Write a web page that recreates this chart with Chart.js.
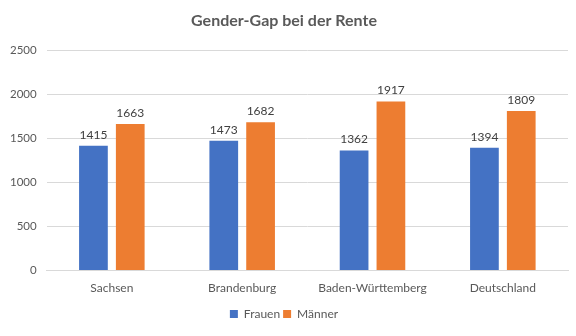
<!DOCTYPE html>
<html><head><meta charset="utf-8">
<script src="https://cdn.jsdelivr.net/npm/chart.js@4/dist/chart.umd.min.js"></script>
<style>html,body{margin:0;padding:0;background:#fff}#wrap{width:576px;height:336px}</style>
</head><body><div id="wrap"><canvas id="c" width="576" height="336"></canvas></div>
<script>
const categories = ["Sachsen", "Brandenburg", "Baden-Württemberg", "Deutschland"];
const frauen = [1415, 1473, 1362, 1394];
const maenner = [1663, 1682, 1917, 1809];
const seriesNames = ["Frauen", "Männer"];

const FONT = "Lato, 'Open Sans', sans-serif";
const labelPlugin = {
  id: 'vlabels',
  afterDatasetsDraw(chart) {
    const ctx = chart.ctx;
    ctx.save();
    ctx.font = "12px " + FONT;
    ctx.fillStyle = "#404040";
    ctx.textAlign = "center";
    ctx.textBaseline = "bottom";
    chart.data.datasets.forEach((ds, i) => {
      chart.getDatasetMeta(i).data.forEach((bar, j) => {
        ctx.fillText(ds.data[j], bar.x, bar.y - 5);
      });
    });
    ctx.restore();
  }
};

new Chart(document.getElementById('c'), {
  type: 'bar',
  data: {
    labels: categories,
    datasets: [
      { label: seriesNames[0], data: frauen, backgroundColor: '#4472c4', categoryPercentage: 0.565, barPercentage: 0.78 },
      { label: seriesNames[1], data: maenner, backgroundColor: '#ed7d31', categoryPercentage: 0.565, barPercentage: 0.78 }
    ]
  },
  options: {
    responsive: false,
    animation: false,
    devicePixelRatio: 1,
    layout: { padding: { left: 0, right: 8, top: 0, bottom: 6 } },
    plugins: {
      title: { display: true, text: 'Gender-Gap bei der Rente', color: '#595959', font: { family: FONT, size: 16, weight: 'bold' }, padding: { top: 11, bottom: 20 } },
      legend: { position: 'bottom', labels: { boxWidth: 8, boxHeight: 8, color: '#595959', font: { family: FONT, size: 12 }, padding: 3 } },
      tooltip: { enabled: false }
    },
    scales: {
      x: {
        grid: { display: false, drawTicks: false },
        border: { color: '#d9d9d9' },
        ticks: { color: '#595959', font: { family: FONT, size: 12 }, padding: 10 }
      },
      y: {
        min: 0, max: 2500,
        ticks: { stepSize: 500, color: '#595959', font: { family: FONT, size: 11.5 }, padding: 10, callback: v => String(v) },
        grid: { color: '#d9d9d9', drawTicks: false },
        border: { display: false }
      }
    }
  },
  plugins: [labelPlugin]
});
</script></body></html>
